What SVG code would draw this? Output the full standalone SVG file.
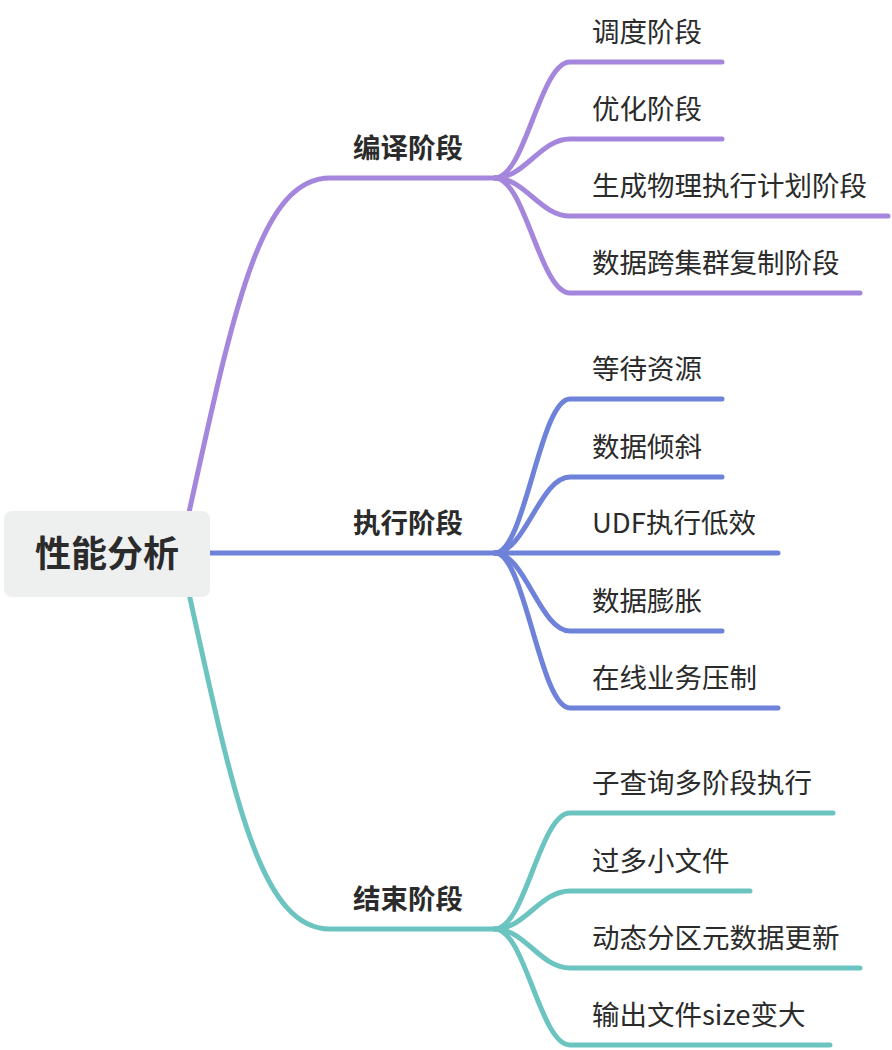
<svg xmlns="http://www.w3.org/2000/svg" width="892" height="1050" viewBox="0 0 892 1050">
<style>
.c{fill:none;stroke-width:5;stroke-linecap:round;stroke-linejoin:round}
.p{stroke:#a487dd}
.b{stroke:#6f82da}
.t{stroke:#6cc4c1}
text{font-family:"Noto Sans CJK SC","Noto Sans",sans-serif;fill:#2b2b2b}
.s{font-size:27.5px}
.l1{font-size:27.5px;font-weight:bold}
.r{font-size:36px;font-weight:bold}
</style>
<rect width="892" height="1050" fill="#ffffff"/>
<g id="connectors">
<path class="c p" d="M180 553 C230 330 255 178 330 178 L495 178"/>
<path class="c b" d="M210 553 L495 553"/>
<path class="c t" d="M180 553 C230 776 255 929 330 929 L495 929"/>
<path class="c p" d="M495 178 C525 178 540 62 570 62 L722 62"/>
<path class="c p" d="M495 178 C525 178 540 139 570 139 L722 139"/>
<path class="c p" d="M495 178 C525 178 540 216 570 216 L888 216"/>
<path class="c p" d="M495 178 C525 178 540 293 570 293 L860 293"/>
<path class="c b" d="M495 553 C525 553 540 399 570 399 L722 399"/>
<path class="c b" d="M495 553 C525 553 540 477 570 477 L722 477"/>
<path class="c b" d="M495 553 L778 553"/>
<path class="c b" d="M495 553 C525 553 540 631 570 631 L722 631"/>
<path class="c b" d="M495 553 C525 553 540 708 570 708 L778 708"/>
<path class="c t" d="M495 929 C525 929 540 813 570 813 L833 813"/>
<path class="c t" d="M495 929 C525 929 540 891 570 891 L750 891"/>
<path class="c t" d="M495 929 C525 929 540 968 570 968 L860 968"/>
<path class="c t" d="M495 929 C525 929 540 1045 570 1045 L830 1045"/>
</g>
<g id="root">
<rect x="4" y="511" width="206" height="86" rx="8" fill="#eef0f0"/>
<text class="r" x="107" y="567" text-anchor="middle">性能分析</text>
</g>
<g id="n-compile"><text class="l1" x="353" y="158">编译阶段</text></g>
<g id="n-exec"><text class="l1" x="353" y="533">执行阶段</text></g>
<g id="n-end"><text class="l1" x="353" y="909">结束阶段</text></g>
<g id="c1"><text class="s" x="592" y="42">调度阶段</text></g>
<g id="c2"><text class="s" x="592" y="119">优化阶段</text></g>
<g id="c3"><text class="s" x="592" y="196">生成物理执行计划阶段</text></g>
<g id="c4"><text class="s" x="592" y="273">数据跨集群复制阶段</text></g>
<g id="e1"><text class="s" x="592" y="379">等待资源</text></g>
<g id="e2"><text class="s" x="592" y="457">数据倾斜</text></g>
<g id="e3"><text class="s" x="592" y="533">UDF执行低效</text></g>
<g id="e4"><text class="s" x="592" y="611">数据膨胀</text></g>
<g id="e5"><text class="s" x="592" y="688">在线业务压制</text></g>
<g id="f1"><text class="s" x="592" y="793">子查询多阶段执行</text></g>
<g id="f2"><text class="s" x="592" y="871">过多小文件</text></g>
<g id="f3"><text class="s" x="592" y="948">动态分区元数据更新</text></g>
<g id="f4"><text class="s" x="592" y="1025">输出文件size变大</text></g>
</svg>
